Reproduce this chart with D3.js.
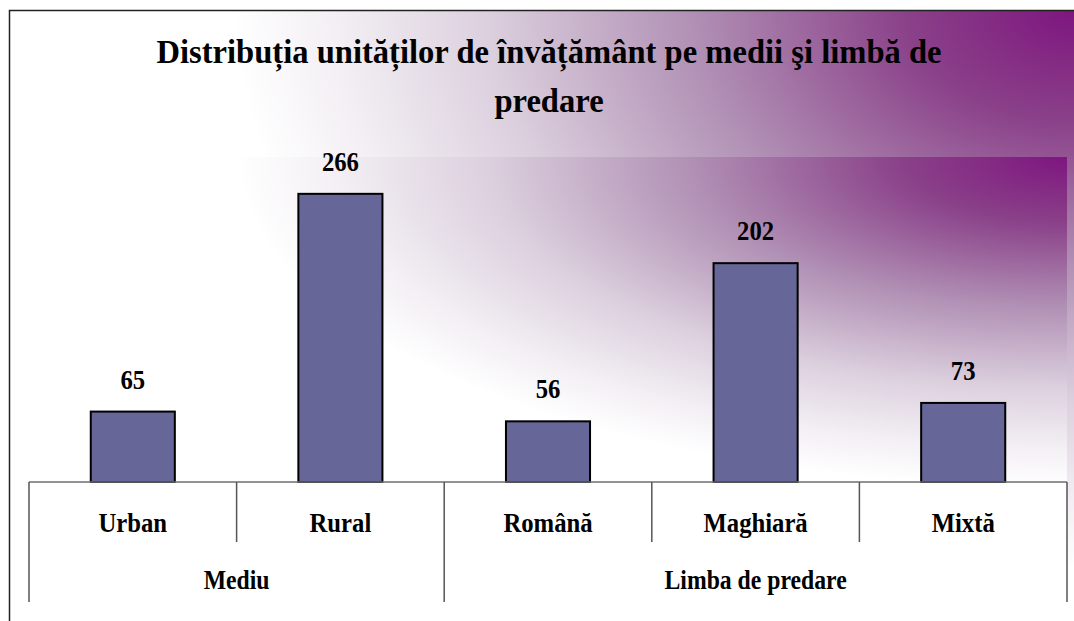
<!DOCTYPE html>
<html>
<head>
<meta charset="utf-8">
<script src="https://cdn.jsdelivr.net/npm/d3@7"></script>
<style>
  html, body { margin: 0; padding: 0; background: #ffffff; }
  svg { display: block; }
  text { font-family: "Liberation Serif", "Times New Roman", serif; font-weight: bold; fill: #000; }
</style>
</head>
<body>
<svg id="chart" width="1074" height="621"></svg>
<script>
// ---- data ----
const titleLines = ["Distribuția unităților de învățământ pe medii şi limbă de", "predare"];
const categories = ["Urban", "Rural", "Română", "Maghiară", "Mixtă"];
const values = [65, 266, 56, 202, 73];
const groupNames = ["Mediu", "Limba de predare"];
const groupSizes = [2, 3];
const yDomain = [0, 300];

// ---- layout ----
const plot = { left: 29, right: 1067, top: 157, base: 482, bottom: 607 };
const condense = 0.915;

const svg = d3.select("#chart");
const defs = svg.append("defs");

function purpleGradient(id, tx, ty, sx, sy) {
  const g = defs.append("radialGradient")
    .attr("id", id)
    .attr("gradientUnits", "userSpaceOnUse")
    .attr("cx", 0).attr("cy", 0).attr("r", 1)
    .attr("gradientTransform", `translate(${tx},${ty}) scale(${sx},${sy})`);
  const stops = [
    [0, "#7e167f"], [0.2, "#8a4189"], [0.45, "#b08fb4"],
    [0.7, "#dcd0de"], [0.88, "#f3eff4"], [1, "#ffffff"]
  ];
  stops.forEach(([o, c]) => g.append("stop").attr("offset", o).attr("stop-color", c));
}
purpleGradient("gChart", 1074, 10, 840, 560);
purpleGradient("gPlot", plot.right, plot.top, 830, 330);

// chart area
svg.append("rect")
  .attr("x", 9.5).attr("y", 10.5).attr("width", 1100).attr("height", 700)
  .attr("fill", "url(#gChart)")
  .attr("stroke", "#222").attr("stroke-width", 1.5);

// plot area
svg.append("rect")
  .attr("x", plot.left).attr("y", plot.top)
  .attr("width", plot.right - plot.left).attr("height", plot.bottom - plot.top)
  .attr("fill", "url(#gPlot)");

// helper: condensed, centred text
function label(parent, px, py, size, str, sx) {
  return parent.append("text")
    .attr("transform", `translate(${px},${py}) scale(${sx},1)`)
    .attr("text-anchor", "middle")
    .attr("font-size", size)
    .text(str);
}

// title
titleLines.forEach((t, i) => label(svg, 549, 63 + i * 49, 34.5, t, 0.945));

// scales
const x = d3.scaleBand().domain(categories).range([plot.left, plot.right]).padding(0);
const y = d3.scaleLinear().domain(yDomain).range([plot.base, plot.top]);
const barW = x.bandwidth() * 0.405;

// bars
svg.append("g").selectAll("rect")
  .data(categories)
  .join("rect")
  .attr("x", (d) => x(d) + (x.bandwidth() - barW) / 2)
  .attr("y", (d, i) => y(values[i]))
  .attr("width", barW)
  .attr("height", (d, i) => y(0) - y(values[i]))
  .attr("fill", "#666699")
  .attr("stroke", "#000")
  .attr("stroke-width", 2);

// value labels
const valG = svg.append("g");
categories.forEach((c, i) => {
  label(valG, x(c) + x.bandwidth() / 2, y(values[i]) - 23, 27, String(values[i]), condense);
});

// category axis (two levels)
const axisG = svg.append("g");
axisG.append("line")
  .attr("x1", plot.left).attr("x2", plot.right)
  .attr("y1", plot.base).attr("y2", plot.base)
  .attr("stroke", "#6e6e6e").attr("stroke-width", 1.5);

const groupEdges = [0];
groupSizes.forEach((s) => groupEdges.push(groupEdges[groupEdges.length - 1] + s));
const edgeX = (idx) => idx < categories.length ? x(categories[idx]) : x(categories[categories.length - 1]) + x.bandwidth();

for (let i = 0; i <= categories.length; i++) {
  const isGroup = groupEdges.includes(i);
  axisG.append("line")
    .attr("x1", edgeX(i)).attr("x2", edgeX(i))
    .attr("y1", plot.base).attr("y2", isGroup ? 602 : 542)
    .attr("stroke", "#555").attr("stroke-width", 1.5);
}

categories.forEach((c) => {
  label(axisG, x(c) + x.bandwidth() / 2, 532, 27, c, condense);
});

groupNames.forEach((g, i) => {
  label(axisG, (edgeX(groupEdges[i]) + edgeX(groupEdges[i + 1])) / 2, 589, 27, g, condense * 0.96);
});
</script>
</body>
</html>
